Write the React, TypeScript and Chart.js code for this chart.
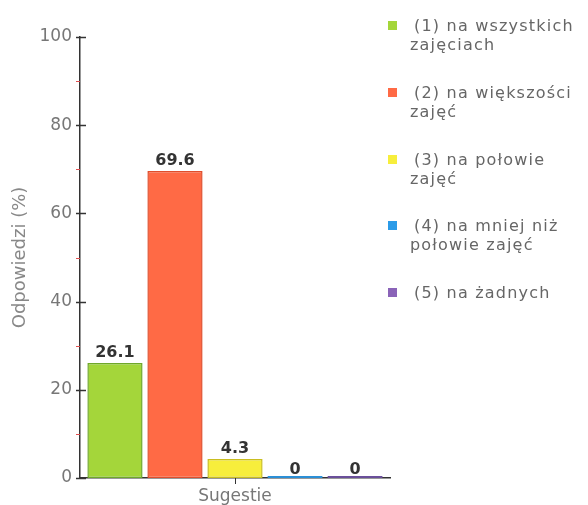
import React, { useEffect, useRef } from 'react';
import { Chart, registerables } from 'chart.js';

Chart.register(...registerables);

const categories = ['Sugestie'];
const seriesNames = [
  '(1) na wszystkich zajęciach',
  '(2) na większości zajęć',
  '(3) na połowie zajęć',
  '(4) na mniej niż połowie zajęć',
  '(5) na żadnych',
];
const legendLines = [
  ['(1) na wszystkich', 'zajęciach'],
  ['(2) na większości', 'zajęć'],
  ['(3) na połowie', 'zajęć'],
  ['(4) na mniej niż', 'połowie zajęć'],
  ['(5) na żadnych'],
];
const seriesValues = [26.1, 69.6, 4.3, 0, 0];
const valueLabels = ['26.1', '69.6', '4.3', '0', '0'];
const yMin = 0;
const yMax = 100;
const yStep = 20;
const yTitle = 'Odpowiedzi (%)';

const fillColors = ['#a4d63a', '#ff6a45', '#f7ee3c', '#2b8fd6', '#6a4f9a'];
const borderColors = ['#6fa82a', '#e04e2c', '#c9bd20', '#2b8fd6', '#6a4f9a'];
const legendColors = ['#a4d63a', '#ff6a45', '#f7ee3c', '#2b9be8', '#8a63b8'];

const FONT = '"DejaVu Sans", Verdana, sans-serif';

const decorPlugin = {
  id: 'decor',
  afterDraw(chart: any) {
    const ctx = chart.ctx;
    const y = chart.scales.y;
    const x = chart.scales.x;
    const ax = chart.chartArea.left;
    ctx.save();
    for (let v = yMin; v <= yMax; v += yStep / 2) {
      const py = Math.round(y.getPixelForValue(v)) + 0.5;
      ctx.beginPath();
      if (v % yStep === 0) {
        ctx.strokeStyle = '#333';
        ctx.lineWidth = 1.5;
        ctx.moveTo(ax - 4, py);
        ctx.lineTo(ax + 6, py);
      } else {
        ctx.strokeStyle = '#e05050';
        ctx.lineWidth = 1;
        ctx.moveTo(ax - 4, py);
        ctx.lineTo(ax, py);
      }
      ctx.stroke();
    }
    categories.forEach((_, i) => {
      const px = Math.round(x.getPixelForValue(i)) + 0.5;
      ctx.beginPath();
      ctx.strokeStyle = '#333';
      ctx.lineWidth = 1;
      ctx.moveTo(px, chart.chartArea.bottom);
      ctx.lineTo(px, chart.chartArea.bottom + 6);
      ctx.stroke();
    });
    ctx.font = `bold 16px ${FONT}`;
    ctx.fillStyle = '#333';
    ctx.textAlign = 'center';
    ctx.textBaseline = 'alphabetic';
    chart.data.datasets.forEach((ds: any, i: number) => {
      const meta = chart.getDatasetMeta(i);
      meta.data.forEach((bar: any) => {
        const ty = seriesValues[i] > 0 ? bar.y - 6 : bar.base - 4;
        ctx.fillText(valueLabels[i], bar.x, ty);
      });
    });
    ctx.restore();
  },
};

export default function App() {
  const ref = useRef<HTMLCanvasElement>(null);
  useEffect(() => {
    document.body.style.margin = '0';
    const chart = new Chart(ref.current as HTMLCanvasElement, {
      type: 'bar',
      data: {
        labels: categories,
        datasets: seriesNames.map((name, i) => ({
          label: name,
          data: [seriesValues[i]],
          backgroundColor: fillColors[i],
          borderColor: borderColors[i],
          borderWidth: 1.5,
          borderSkipped: false,
          minBarLength: 2,
          categoryPercentage: 0.968,
          barPercentage: 0.92,
        })),
      },
      options: {
        animation: false,
        responsive: false,
        layout: { padding: { top: 37, right: 198, bottom: 0, left: 0 } },
        plugins: { legend: { display: false }, tooltip: { enabled: false } },
        scales: {
          x: {
            grid: { display: false, drawTicks: false },
            border: { display: true, color: '#333', width: 1.5 },
            ticks: { color: '#777', font: { family: FONT, size: 17 }, padding: 8 },
            afterFit: (s: any) => { s.height = 27; },
          },
          y: {
            min: yMin,
            max: yMax,
            grid: { display: false, drawTicks: false },
            border: { display: true, color: '#333', width: 1.5 },
            ticks: { stepSize: yStep, color: '#777', font: { family: FONT, size: 17 }, padding: 8 },
            title: { display: true, text: yTitle, color: '#888', font: { family: FONT, size: 18 }, padding: { top: 10, bottom: 0 } },
            afterFit: (s: any) => { s.width = 80; },
          },
        },
      },
      plugins: [decorPlugin],
    });
    return () => chart.destroy();
  }, []);

  return (
    <div style={{ position: 'relative', width: 588, height: 505, background: '#fff', overflow: 'hidden' }}>
      <canvas ref={ref} width={588} height={505} style={{ position: 'absolute', left: 0, top: 0 }} />
      {legendLines.map((lines, i) => (
        <div key={i} style={{ position: 'absolute', left: 0, top: 16 + i * 66.75, width: 588 }}>
          <div style={{ position: 'absolute', left: 388, top: 5, width: 9, height: 9, background: legendColors[i] }} />
          <div style={{ position: 'absolute', left: 410, top: 0, fontFamily: FONT, fontSize: 16, lineHeight: '19px', color: '#666', letterSpacing: '1.2px', whiteSpace: 'nowrap' }}>
            {lines.map((l, j) => (
              <div key={j} style={{ paddingLeft: j === 0 ? 4 : 0 }}>{l}</div>
            ))}
          </div>
        </div>
      ))}
    </div>
  );
}
